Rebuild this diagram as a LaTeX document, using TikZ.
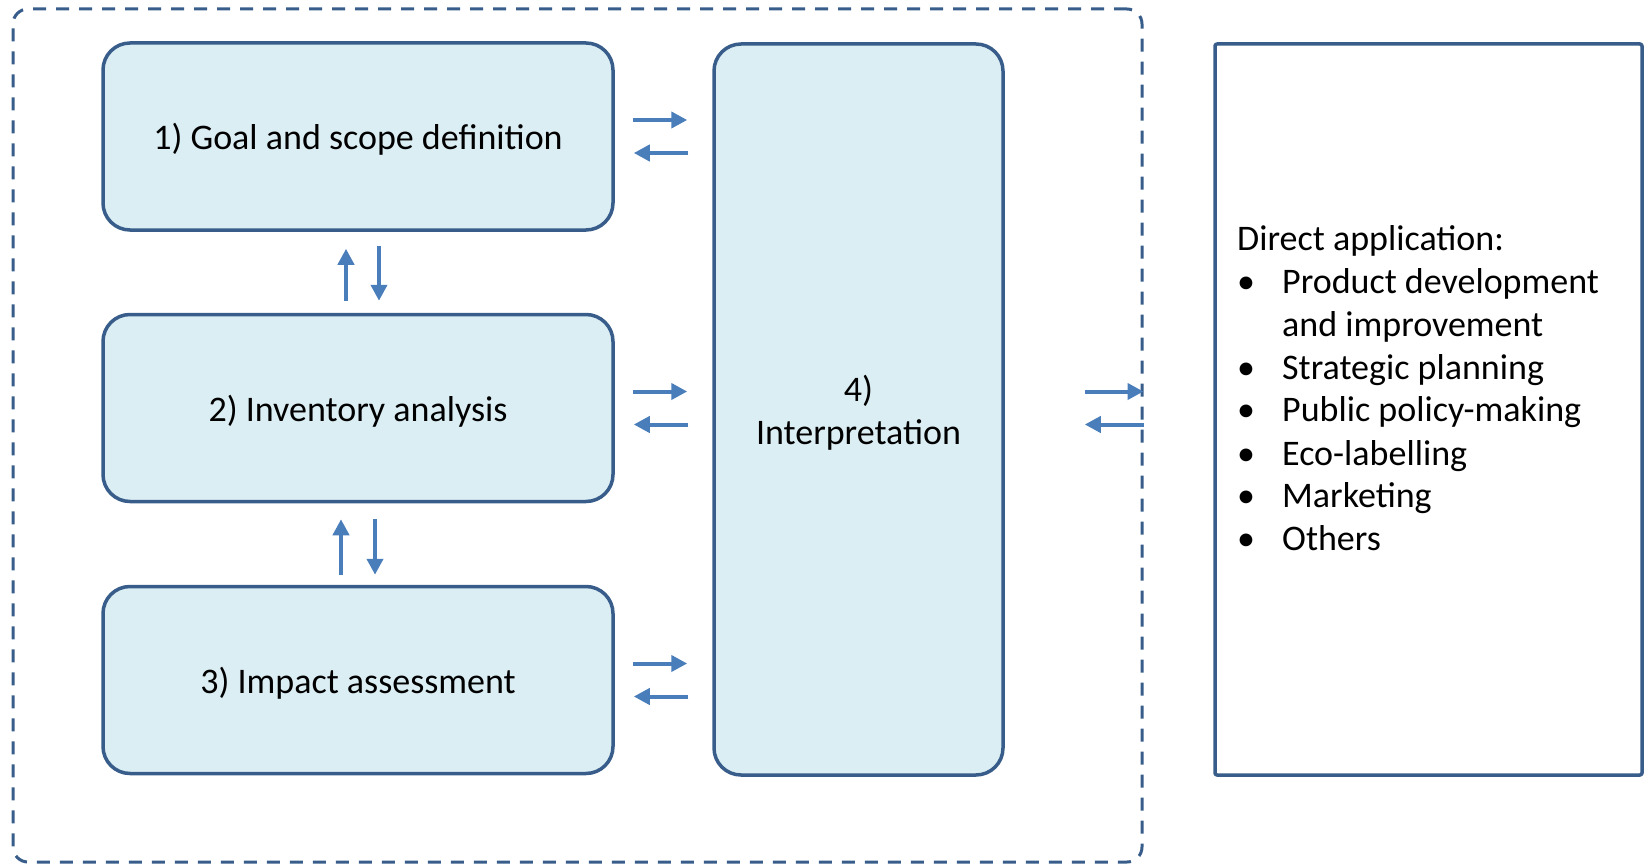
\documentclass[tikz,border=0pt]{standalone}
\usepackage{fontspec}
\setmainfont{Carlito}
\usetikzlibrary{arrows.meta}
\definecolor{boxline}{HTML}{385D8A}
\definecolor{boxfill}{HTML}{DBEEF4}
\definecolor{arrcol}{HTML}{4A7EBB}
\begin{document}
\begin{tikzpicture}[x=1pt,y=-1pt,line join=round,
  font=\fontsize{36}{43}\selectfont,
  stage/.style={draw=boxline,fill=boxfill,line width=3.5pt,rounded corners=27pt,
    minimum width=510pt,minimum height=187pt},
  stagetext/.style={label={[align=center,yshift=-3pt]center:#1}},
  arr/.style={arrcol,line width=4pt,-{Triangle[length=16pt,width=16pt]}}]
\useasboundingbox (0,0) rectangle (1647,864);
% dashed frame round the four phases
\node[draw=boxline,line width=3pt,dash pattern=on 13pt off 10pt,rounded corners=15pt,
  minimum width=1129pt,minimum height=853pt] (lca) at (577.5,435.5) {};
\node[stage,stagetext={1) Goal and scope definition}] (goal) at (358,136.5) {};
\node[stage,stagetext={2) Inventory analysis}] (inv) at (358,408) {};
\node[stage,stagetext={3) Impact assessment}] (imp) at (358,680) {};
\node[stage,stagetext={4)\\Interpretation},minimum width=289pt,minimum height=731pt] (interp) at (858.5,409.5) {};
\node[draw=boxline,line width=3.5pt,rounded corners=2pt,minimum width=427pt,minimum height=731pt] (app) at (1428.5,409.5) {};
\node[anchor=base west,inner sep=0pt] (applist) at (1237,250) {%
  \begin{tabular}[t]{@{}p{45pt}@{}l@{}}
  \multicolumn{2}{@{}l@{}}{Direct application:}\\
  \textbullet & Product development\\
   & and improvement\\
  \textbullet & Strategic planning\\
  \textbullet & Public policy-making\\
  \textbullet & Eco-labelling\\
  \textbullet & Marketing\\
  \textbullet & Others
  \end{tabular}};
% arrows to and from the interpretation
\foreach \b in {goal,inv,imp}{
  \coordinate (\b r) at ([yshift=16.5pt]\b.east);
  \coordinate (\b l) at ([yshift=-16.5pt]\b.east);
  \draw[arr,shorten <=18pt,shorten >=25pt] (\b r) -- (\b r -| interp.west);
  \draw[arr,shorten <=24pt,shorten >=19pt] (\b l -| interp.west) -- (\b l);
}
% phases 1-2 and 2-3
\coordinate (u1) at ([xshift=-12pt]inv.north);
\coordinate (d1) at ([xshift=21pt]goal.south);
\draw[arr,shorten <=12pt,shorten >=17pt] (u1) -- (u1 |- goal.south);
\draw[arr,shorten <=14pt,shorten >=12pt] (d1) -- (d1 |- inv.north);
\coordinate (u2) at ([xshift=-17pt]imp.north);
\coordinate (d2) at ([xshift=17pt]inv.south);
\draw[arr,shorten <=10pt,shorten >=16pt] (u2) -- (u2 |- inv.south);
\draw[arr,shorten <=16pt,shorten >=10pt] (d2) -- (d2 |- imp.north);
% direct applications
\draw[arr,shorten <=80pt] (invr -| interp.east) -- (invr -| lca.east);
\draw[arr,shorten >=80pt] (invl -| lca.east) -- (invl -| interp.east);
\end{tikzpicture}
\end{document}
